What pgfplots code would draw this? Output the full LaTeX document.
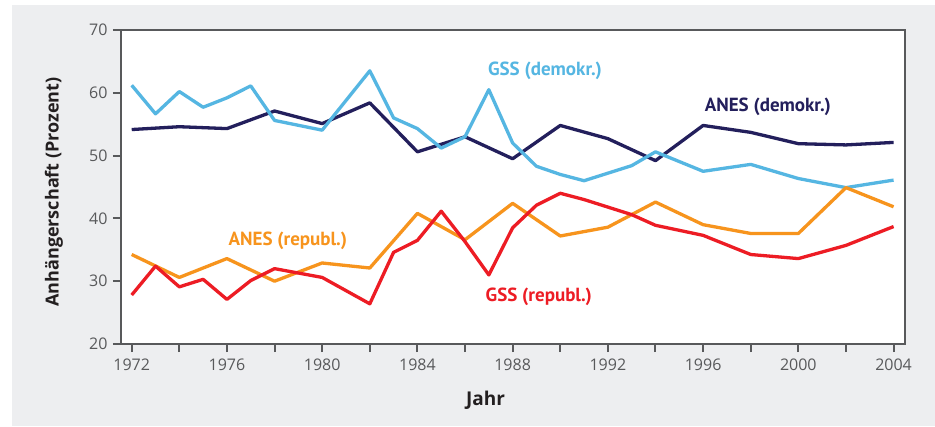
\documentclass[border=0pt]{standalone}
\usepackage{pgfplots}
\pgfplotsset{compat=1.18}
\usepackage{fontspec}
\setmainfont{Open Sans}
\newfontfamily\ptsans{PT Sans}
\definecolor{panel}{HTML}{EDEEF0}
\definecolor{axgray}{HTML}{58595B}
\definecolor{gssd}{HTML}{55B6E2}
\definecolor{anesd}{HTML}{231F5C}
\definecolor{anesr}{HTML}{F7941D}
\definecolor{gssr}{HTML}{ED1C24}
\definecolor{txt}{HTML}{231F20}
\begin{document}
\begin{tikzpicture}[x=1pt,y=1pt]
\useasboundingbox (-121,-82) rectangle (814,344);
\fill[panel] (-109,-82) rectangle (814,339);
\begin{axis}[at={(0,0)}, anchor=south west, scale only axis,
  width=784pt, height=314pt,
  xmin=1971.55, xmax=2004.48, ymin=20, ymax=70,
  axis background/.style={fill=white},
  axis line style={axgray, line width=2pt},
  xtick={1972,1974,...,2004},
  xticklabels={1972,,1976,,1980,,1984,,1988,,1992,,1996,,2000,,2004},
  ytick={20,30,...,70},
  yticklabels={20,30,40,50,60,70},
  tick align=outside, xtick pos=left, ytick pos=left,
  major tick length=8pt,
  every tick/.style={axgray, line width=2pt},
  xticklabel style={font=\fontsize{16}{19}\selectfont, text=axgray, yshift=-3pt},
  yticklabel style={font=\fontsize{16}{19}\selectfont, text=axgray, xshift=-2pt},
  xlabel={Jahr},
  xlabel style={font=\bfseries\fontsize{19}{23}\selectfont, text=txt, at={(axis description cs:0.465,-0.178)}, anchor=center},
  ylabel={Anhängerschaft (Prozent)},
  ylabel style={font=\bfseries\fontsize{18}{21}\selectfont, text=txt, at={(axis description cs:-0.0855,0.484)}, anchor=center},
  every axis plot/.append style={line width=3.3pt, line join=round, no markers},
]
\addplot[anesd] coordinates {(1972,54.15)(1974,54.6)(1976,54.3)(1978,57.1)(1980,55.1)(1982,58.4)(1984,50.6)(1986,53.0)(1988,49.5)(1990,54.8)(1992,52.7)(1994,49.2)(1996,54.8)(1998,53.7)(2000,51.9)(2002,51.7)(2004,52.1)};
\addplot[gssd] coordinates {(1972,61.2)(1973,56.65)(1974,60.2)(1975,57.7)(1976,59.2)(1977,61.1)(1978,55.6)(1980,54.05)(1982,63.5)(1983,56.0)(1984,54.3)(1985,51.2)(1986,53.0)(1987,60.5)(1988,52.0)(1989,48.3)(1990,47.0)(1991,46.0)(1993,48.4)(1994,50.6)(1996,47.5)(1998,48.6)(2000,46.35)(2002,44.9)(2004,46.1)};
\addplot[anesr] coordinates {(1972,34.25)(1974,30.6)(1976,33.6)(1978,30.0)(1980,32.9)(1982,32.1)(1984,40.8)(1986,36.6)(1988,42.4)(1990,37.2)(1992,38.6)(1994,42.6)(1996,39.0)(1998,37.6)(2000,37.6)(2002,44.9)(2004,41.85)};
\addplot[gssr] coordinates {(1972,27.8)(1973,32.4)(1974,29.1)(1975,30.3)(1976,27.1)(1977,30.1)(1978,32.0)(1980,30.6)(1982,26.4)(1983,34.6)(1984,36.5)(1985,41.15)(1986,36.3)(1987,31.0)(1988,38.5)(1989,42.1)(1990,44.0)(1991,43.0)(1993,40.6)(1994,38.9)(1996,37.3)(1998,34.25)(2000,33.6)(2002,35.7)(2004,38.7)};
\node[text=gssd, font=\ptsans\bfseries\fontsize{19}{22}\selectfont] at (axis cs:1989.36,63.44) {GSS (demokr.)};
\node[text=anesd, font=\ptsans\bfseries\fontsize{19}{22}\selectfont] at (axis cs:1998.72,57.8) {ANES (demokr.)};
\node[text=anesr, font=\ptsans\bfseries\fontsize{19}{22}\selectfont] at (axis cs:1978.56,36.5) {ANES (republ.)};
\node[text=gssr, font=\ptsans\bfseries\fontsize{19}{22}\selectfont] at (axis cs:1989.1,27.56) {GSS (republ.)};
\end{axis}
\end{tikzpicture}
\end{document}
